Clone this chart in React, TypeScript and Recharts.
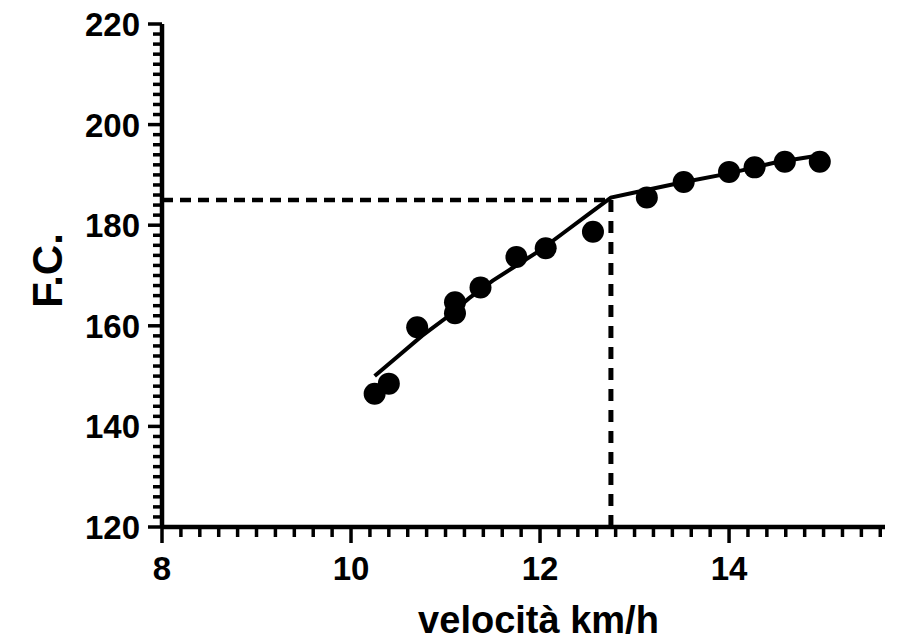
import React from 'react';
import { ScatterChart, Scatter, XAxis, YAxis, ReferenceLine } from 'recharts';

// measured points (velocità km/h, F.C.)
const speed = [10.25, 10.4, 10.7, 11.1, 11.1, 11.37, 11.75, 12.06, 12.56, 13.13, 13.52, 14.0, 14.27, 14.59, 14.96];
const heartRate = [146.5, 148.5, 159.7, 164.7, 162.5, 167.6, 173.7, 175.4, 178.7, 185.5, 188.6, 190.6, 191.5, 192.6, 192.6];

// fitted curve
const fitSpeed = [10.25, 10.5, 10.75, 11.0, 11.25, 11.5, 11.75, 12.0, 12.25, 12.5, 12.75, 13.0, 13.5, 14.0, 14.5, 15.0];
const fitHeartRate = [150, 154, 158, 161.5, 165.5, 169, 172, 175, 178.5, 182, 185.5, 186.5, 188.5, 190.3, 192.5, 194];

// deflection point
const thresholdSpeed = 12.75;
const thresholdHeartRate = 185;

const xMajorTicks = [8, 10, 12, 14];
const yMajorTicks = [120, 140, 160, 180, 200, 220];
const xAxisTitle = 'velocità km/h';
const yAxisTitle = 'F.C.';

const FONT = '"Liberation Sans", Arial, sans-serif';

function steps(from: number, to: number, step: number) {
  const out: number[] = [];
  for (let v = from; v <= to + 1e-9; v += step) out.push(Math.round(v * 10) / 10);
  return out;
}

const xTicks = steps(8, 15.6, 0.2);
const yTicks = steps(120, 220, 2);

const points = speed.map((s, i) => ({ x: s, y: heartRate[i] }));
const fit = fitSpeed.map((s, i) => ({ x: s, y: fitHeartRate[i] }));

const XTick = (props: any) => {
  const { x, y, payload } = props;
  const major = xMajorTicks.includes(payload.value);
  return (
    <g>
      <line x1={x} x2={x} y1={y} y2={y + (major ? 16 : 10)} stroke="#000" strokeWidth={3.5} />
      {major && (
        <text x={x} y={y + 53} textAnchor="middle" fontFamily={FONT} fontWeight="bold" fontSize={33} fill="#000">
          {payload.value}
        </text>
      )}
    </g>
  );
};

const YTick = (props: any) => {
  const { x, y, payload } = props;
  const major = yMajorTicks.includes(payload.value);
  return (
    <g>
      <line x1={x} x2={x - (major ? 14 : 9)} y1={y} y2={y} stroke="#000" strokeWidth={3.5} />
      {major && (
        <text x={x - 22} y={y + 12} textAnchor="end" fontFamily={FONT} fontWeight="bold" fontSize={33} fill="#000">
          {payload.value}
        </text>
      )}
    </g>
  );
};

const xTitle = (props: any) => {
  const vb = props.viewBox;
  return (
    <text x={vb.x + vb.width / 2 + 15} y={vb.y + 106} textAnchor="middle" fontFamily={FONT} fontWeight="bold" fontSize={38} fill="#000">
      {xAxisTitle}
    </text>
  );
};

const yTitle = (props: any) => {
  const vb = props.viewBox;
  const cx = 62;
  const cy = vb.y + vb.height / 2 - 5;
  return (
    <text x={cx} y={cy} transform={`rotate(-90, ${cx}, ${cy})`} textAnchor="middle" fontFamily={FONT} fontWeight="bold" fontSize={42} fill="#000">
      {yAxisTitle}
    </text>
  );
};

export default function App() {
  return (
    <div style={{ position: 'absolute', left: 0, top: 0, background: '#fff' }}>
      <ScatterChart width={897} height={640} margin={{ top: 24, right: 12, left: 0, bottom: 0 }}>
        <XAxis
          type="number"
          dataKey="x"
          domain={[8, 15.65]}
          ticks={xTicks}
          interval={0}
          tick={XTick}
          tickSize={0}
          tickMargin={0}
          tickLine={false}
          axisLine={{ stroke: '#000', strokeWidth: 4.5 }}
          height={113}
          allowDataOverflow
          label={xTitle}
        />
        <YAxis
          type="number"
          dataKey="y"
          domain={[120, 220]}
          ticks={yTicks}
          interval={0}
          tick={YTick}
          tickSize={0}
          tickMargin={0}
          tickLine={false}
          axisLine={{ stroke: '#000', strokeWidth: 4.5 }}
          width={162}
          allowDataOverflow
          label={yTitle}
        />
        <ReferenceLine
          segment={[{ x: 8, y: thresholdHeartRate }, { x: thresholdSpeed, y: thresholdHeartRate }]}
          stroke="#000"
          strokeWidth={4.5}
          strokeDasharray="11 7"
        />
        <ReferenceLine
          segment={[{ x: thresholdSpeed, y: thresholdHeartRate }, { x: thresholdSpeed, y: 120 }]}
          stroke="#000"
          strokeWidth={5}
          strokeDasharray="12 9"
        />
        <Scatter
          data={fit}
          line={{ stroke: '#000', strokeWidth: 4 }}
          shape={() => <g />}
          isAnimationActive={false}
        />
        <Scatter
          data={points}
          fill="#000"
          shape={(p: any) => <circle cx={p.cx} cy={p.cy} r={11} fill="#000" />}
          isAnimationActive={false}
        />
      </ScatterChart>
    </div>
  );
}
